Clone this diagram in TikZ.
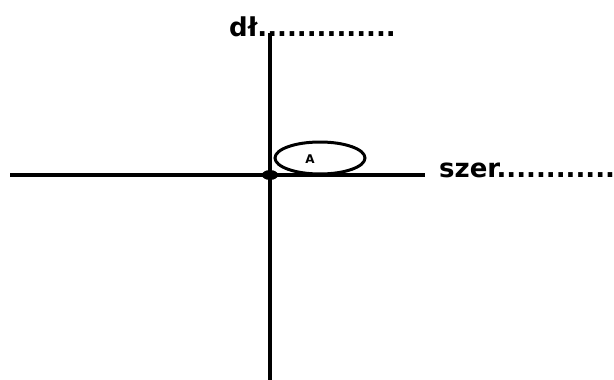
\documentclass[tikz,border=0pt]{standalone}
\usepackage{fontspec}
\setmainfont{DejaVu Sans}
\begin{document}
\begin{tikzpicture}[x=1pt,y=-1pt,
  axis/.style={line width=3.5pt},
  lbl/.style={font=\bfseries\fontsize{26}{26}\selectfont,inner sep=0pt,anchor=base west}]
\useasboundingbox (0,0) rectangle (614,380);
\coordinate (top) at (270,33);
\coordinate (bot) at (270,380);
\coordinate (left) at (10,175);
\coordinate (right) at (425,175);
\coordinate (O) at (270,175);
\draw[axis] (top) -- (bot);
\draw[axis] (left) -- (right);
\fill (O) ellipse [x radius=8, y radius=5];
\draw[line width=3pt] (320,158) ellipse [x radius=45, y radius=16];
\node[font=\bfseries\fontsize{12}{12}\selectfont,inner sep=0pt] (A) at (310,159) {A};
\node[lbl] (dl) at (229,36) {dł..............};
\node[lbl] (szer) at (439,177) {szer............};
\end{tikzpicture}
\end{document}
